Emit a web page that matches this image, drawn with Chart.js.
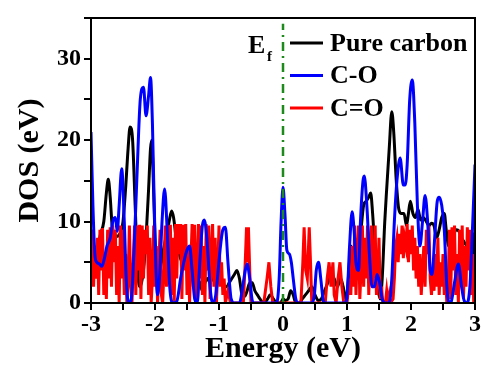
<!DOCTYPE html>
<html>
<head>
<meta charset="utf-8">
<script src="https://cdn.jsdelivr.net/npm/chart.js@4/dist/chart.umd.min.js"></script>
<style>
  body { margin: 0; background: #fff; }
</style>
</head>
<body>
<canvas id="dosChart" width="481" height="367"></canvas>
<script>
// Axis ticks
const xTicks = [-3, -2, -1, 0, 1, 2, 3];
const yTicks = [0, 10, 20, 30];
const legendOrder = ['Pure carbon', 'C-O', 'C=O'];

// Pure carbon (black)
const carbonE = [-3.00, -2.97, -2.93, -2.89, -2.85, -2.80, -2.76, -2.73, -2.70, -2.67, -2.64, -2.60, -2.55, -2.50, -2.46, -2.42, -2.39, -2.35, -2.31, -2.27, -2.24, -2.21, -2.18, -2.14, -2.10, -2.07, -2.05, -2.03, -2.00, -1.96, -1.92, -1.88, -1.83, -1.78, -1.74, -1.71, -1.67, -1.62, -1.58, -1.54, -1.50, -1.46, -1.42, -1.38, -1.34, -1.30, -1.26, -1.22, -1.18, -1.14, -1.10, -1.05, -1.00, -0.96, -0.92, -0.88, -0.84, -0.80, -0.76, -0.72, -0.68, -0.64, -0.60, -0.56, -0.52, -0.48, -0.44, -0.40, -0.36, -0.30, -0.24, -0.20, -0.15, -0.10, -0.04, 0.00, 0.04, 0.08, 0.12, 0.16, 0.20, 0.26, 0.30, 0.35, 0.40, 0.45, 0.50, 0.55, 0.60, 0.65, 0.70, 0.75, 0.80, 0.85, 0.90, 0.94, 0.98, 1.00, 1.03, 1.06, 1.10, 1.14, 1.18, 1.22, 1.26, 1.30, 1.34, 1.37, 1.40, 1.44, 1.48, 1.52, 1.55, 1.59, 1.62, 1.66, 1.70, 1.73, 1.77, 1.81, 1.85, 1.89, 1.93, 1.96, 1.99, 2.03, 2.07, 2.11, 2.15, 2.19, 2.24, 2.28, 2.32, 2.36, 2.40, 2.44, 2.48, 2.52, 2.55, 2.59, 2.63, 2.67, 2.71, 2.75, 2.79, 2.83, 2.87, 2.91, 2.94, 2.97, 3.00];
const carbonDOS = [9, 7.5, 6.5, 7, 8.5, 10, 13.5, 15.2, 13, 9.5, 8.5, 8.2, 8.5, 10, 14, 19, 21.6, 20, 12, 4, 2, 2.5, 4, 8, 14, 19, 20, 16, 8, 3, 4, 6, 8, 10, 11.3, 10.5, 8, 6, 5, 4.5, 4.5, 5.5, 6, 4, 3, 2.5, 1.5, 2.5, 3, 2.5, 3, 3, 2.7, 2.5, 2, 2, 2.5, 3, 3.5, 4, 3, 1, 0.8, 1.5, 2.5, 2.5, 1.5, 1, 0.5, 0, 0.5, 1, 0.5, 0, 0, 0.5, 0.3, 0.5, 1.5, 1, 0, 0, 0.5, 1, 1.5, 2, 1, 0.3, 0.5, 1.5, 2.5, 3.5, 3, 2, 3, 2, 0.5, 1, 4, 7, 6, 4, 5, 9, 12, 12.5, 13, 13.5, 11, 6, 2, 0.5, 3, 10, 14, 19, 23.5, 21, 15, 11.5, 11, 11, 9.5, 11, 12.5, 11, 10.5, 11.5, 10.2, 10.5, 10, 9.5, 9.8, 9.5, 8, 9, 10.5, 11, 9, 7, 7.5, 8.5, 9, 8.8, 8, 7.5, 7, 6.5, 7.5, 8.5, 2];

// C-O (blue)
const coE = [-3.00, -2.97, -2.94, -2.91, -2.87, -2.83, -2.79, -2.75, -2.70, -2.66, -2.62, -2.59, -2.56, -2.52, -2.48, -2.45, -2.42, -2.40, -2.37, -2.33, -2.28, -2.23, -2.18, -2.14, -2.10, -2.07, -2.04, -2.00, -1.96, -1.93, -1.89, -1.85, -1.81, -1.77, -1.72, -1.66, -1.60, -1.55, -1.50, -1.46, -1.42, -1.38, -1.34, -1.30, -1.26, -1.23, -1.19, -1.14, -1.10, -1.05, -0.99, -0.94, -0.90, -0.86, -0.81, -0.76, -0.68, -0.63, -0.59, -0.56, -0.52, -0.48, -0.45, -0.10, -0.06, -0.03, 0.00, 0.03, 0.06, 0.10, 0.13, 0.16, 0.20, 0.24, 0.45, 0.49, 0.52, 0.555, 0.59, 0.63, 0.66, 0.98, 1.01, 1.04, 1.08, 1.11, 1.14, 1.18, 1.21, 1.25, 1.27, 1.31, 1.35, 1.39, 1.43, 1.47, 1.51, 1.55, 1.60, 1.66, 1.70, 1.74, 1.78, 1.83, 1.88, 1.91, 1.94, 1.98, 2.02, 2.06, 2.10, 2.14, 2.18, 2.22, 2.26, 2.30, 2.33, 2.37, 2.41, 2.44, 2.48, 2.52, 2.56, 2.60, 2.63, 2.68, 2.74, 2.79, 2.83, 2.87, 2.92, 2.96, 3.00];
const coDOS = [21, 12, 6, 5, 4.8, 4.5, 5.5, 7, 8, 10, 10.5, 8.8, 12, 16.5, 10, 3, 0.2, 0, 0.5, 6, 16, 25, 26.5, 23, 25.5, 27.7, 22, 8, 1, 3, 10, 14, 9, 2, 0, 0.2, 3, 5, 6.5, 7, 4, 0.5, 0, 5, 9.5, 10.2, 8, 2, 0, 1, 6, 9, 9.3, 5, 0.5, 0, 0, 2, 4, 4.8, 3, 0.3, 0, 0, 3, 10, 14.2, 11, 6.5, 6, 5, 3, 0.5, 0, 0, 1, 4, 5, 3, 0.3, 0, 0, 2, 7, 11.2, 9, 5, 4, 10, 15, 15.6, 12, 6, 2, 2, 3.5, 2.5, 0.5, 0, 0, 3, 10, 15, 17.8, 14.5, 14.5, 17, 25, 27.4, 22, 12, 7, 10, 13.2, 10, 4, 3.5, 8, 12.5, 13, 12, 9, 2, 0, 0.2, 2.5, 4.8, 2, 0.3, 0, 2, 9, 17];

// C=O (red)
const cdoE = [-3.00, -2.98, -2.96, -2.94, -2.92, -2.90, -2.88, -2.86, -2.84, -2.82, -2.80, -2.78, -2.76, -2.74, -2.72, -2.70, -2.68, -2.66, -2.64, -2.62, -2.60, -2.58, -2.56, -2.54, -2.52, -2.50, -2.48, -2.46, -2.44, -2.42, -2.40, -2.38, -2.36, -2.34, -2.32, -2.30, -2.28, -2.26, -2.24, -2.22, -2.20, -2.18, -2.16, -2.14, -2.12, -2.10, -2.08, -2.06, -2.04, -2.02, -2.00, -1.98, -1.96, -1.94, -1.92, -1.90, -1.88, -1.86, -1.84, -1.82, -1.80, -1.78, -1.76, -1.74, -1.72, -1.70, -1.68, -1.66, -1.64, -1.62, -1.60, -1.58, -1.56, -1.54, -1.52, -1.50, -1.48, -1.46, -1.44, -1.42, -1.40, -1.38, -1.36, -1.34, -1.32, -1.30, -1.28, -1.26, -1.24, -1.22, -1.20, -1.18, -1.16, -1.14, -1.12, -1.10, -1.08, -1.06, -1.04, -1.02, -1.00, -0.98, -0.96, -0.94, -0.92, -0.90, -0.86, -0.82, -0.62, -0.59, -0.57, -0.555, -0.54, -0.52, -0.50, -0.30, -0.25, -0.22, -0.19, -0.16, 0.28, 0.31, 0.33, 0.355, 0.38, 0.41, 0.43, 0.45, 0.66, 0.69, 0.72, 0.75, 0.78, 0.80, 0.83, 0.86, 0.89, 0.92, 0.95, 1.00, 1.02, 1.04, 1.06, 1.08, 1.10, 1.12, 1.14, 1.16, 1.18, 1.20, 1.22, 1.24, 1.26, 1.28, 1.30, 1.32, 1.34, 1.36, 1.38, 1.40, 1.42, 1.44, 1.46, 1.48, 1.50, 1.52, 1.54, 1.56, 1.60, 1.62, 1.64, 1.66, 1.68, 1.72, 1.74, 1.76, 1.78, 1.80, 1.82, 1.84, 1.86, 1.88, 1.90, 1.92, 1.94, 1.96, 1.98, 2.00, 2.02, 2.04, 2.06, 2.08, 2.10, 2.12, 2.14, 2.16, 2.18, 2.20, 2.22, 2.24, 2.26, 2.28, 2.30, 2.32, 2.34, 2.36, 2.38, 2.40, 2.42, 2.44, 2.46, 2.48, 2.50, 2.52, 2.54, 2.56, 2.58, 2.60, 2.62, 2.64, 2.66, 2.68, 2.70, 2.72, 2.74, 2.76, 2.78, 2.80, 2.82, 2.84, 2.86, 2.88, 2.90, 2.92, 2.94, 2.96, 2.98, 3.00];
const cdoDOS = [6, 9, 2, 7, 3, 8, 1, 9, 4, 9.2, 1, 6, 0.5, 9, 3, 9.3, 2, 9.5, 5, 9, 1, 7, 0, 9.5, 3, 9, 1, 6, 0, 3, 9.5, 2, 0, 5, 9.5, 1, 9.5, 4, 9.6, 0.5, 9.5, 3, 9, 6, 9.5, 1, 8, 0, 3, 9.5, 2, 7, 0, 5, 9, 1, 0, 4, 9.5, 2, 9.5, 5, 9.6, 1, 8, 0, 9.7, 3, 9.7, 6, 9.7, 0.5, 9.6, 4, 9.7, 1, 7, 0, 5, 9.7, 2, 9.6, 0.5, 4, 9.7, 3, 9.5, 1, 7, 0, 9.7, 4, 9.5, 0.5, 6, 9.7, 2, 8, 0, 4, 9.5, 2, 5, 1, 3, 0, 1.5, 0, 0, 5, 9.3, 5, 9.3, 4, 0, 0, 3, 5, 2, 0, 0, 5, 9.3, 4, 3, 9.3, 5, 0, 0, 3, 5, 2, 5, 1, 0, 3, 5, 2, 0, 0, 1.5, 3, 1, 7, 2, 9.5, 1, 6, 9.5, 0.5, 4, 9.5, 2, 8, 3, 9.5, 1, 7, 9.5, 2, 5, 9.5, 1, 3, 8, 0.5, 2, 0, 0, 1.5, 0, 1, 0, 0.5, 3, 7, 8, 5, 8.5, 6, 9.5, 5.5, 8, 7, 9.7, 5, 9, 6, 9.5, 4, 8, 3, 7, 2, 6, 1, 4, 7, 2, 9, 6, 9.5, 3, 1, 4, 1.5, 6, 2, 8, 1, 5, 2, 6, 1, 3, 0, 2, 9, 0.5, 9.3, 4, 9.5, 1, 6, 0, 9, 2, 9.5, 0.5, 7, 2, 9.3, 4, 9, 1, 6, 0, 3];

// Fermi level marker
const fermiE = [0, 0];
const fermiDOS = [0, 34.3];

const serif = "'Liberation Serif', 'Times New Roman', serif";

function toPoints(xs, ys) {
  return xs.map((x, i) => ({ x: x, y: ys[i] }));
}

// legend + frame drawn over the plot area
const frameAndLegend = {
  id: 'frameAndLegend',
  afterDraw(chart) {
    const ctx = chart.ctx;
    const area = chart.chartArea;
    ctx.save();
    ctx.strokeStyle = '#000';
    ctx.lineWidth = 2;
    ctx.strokeRect(area.left, area.top, area.right - area.left, area.bottom - area.top);

    // E_f label
    ctx.fillStyle = '#000';
    ctx.textBaseline = 'alphabetic';
    ctx.font = 'bold 26px ' + serif;
    ctx.fillText('E', area.left + 157, area.top + 35);
    ctx.font = 'bold 15px ' + serif;
    ctx.fillText('f', area.left + 176, area.top + 43);

    // legend entries
    legendOrder.forEach((name, i) => {
      const d = chart.data.datasets.find(ds => ds.label === name);
      const y = area.top + 25 + i * 32.5;
      ctx.strokeStyle = d.borderColor;
      ctx.lineWidth = 3;
      ctx.beginPath();
      ctx.moveTo(area.left + 199, y);
      ctx.lineTo(area.left + 232, y);
      ctx.stroke();
      ctx.fillStyle = '#000';
      ctx.font = 'bold 26px ' + serif;
      ctx.textBaseline = 'middle';
      ctx.fillText(d.label, area.left + 239, y + 1);
    });
    ctx.restore();
  }
};

const ctx = document.getElementById('dosChart').getContext('2d');
new Chart(ctx, {
  type: 'line',
  data: {
    datasets: [
      {
        label: 'Fermi',
        data: toPoints(fermiE, fermiDOS),
        borderColor: '#1E8A1E',
        borderWidth: 2.5,
        borderDash: [9, 5, 2, 5],
        pointRadius: 0,
        order: 0
      },
      {
        label: 'C-O',
        data: toPoints(coE, coDOS),
        borderColor: '#0000FF',
        borderWidth: 3,
        cubicInterpolationMode: 'monotone',
        pointRadius: 0,
        order: 1
      },
      {
        label: 'C=O',
        data: toPoints(cdoE, cdoDOS),
        borderColor: '#FF0000',
        borderWidth: 3,
        tension: 0,
        pointRadius: 0,
        order: 2
      },
      {
        label: 'Pure carbon',
        data: toPoints(carbonE, carbonDOS),
        borderColor: '#000000',
        borderWidth: 3,
        cubicInterpolationMode: 'monotone',
        pointRadius: 0,
        order: 3
      }
    ]
  },
  options: {
    responsive: false,
    animation: false,
    devicePixelRatio: 1,
    layout: { padding: { top: 18, right: 6, left: 0, bottom: 0 } },
    plugins: {
      legend: { display: false },
      tooltip: { enabled: false }
    },
    scales: {
      x: {
        type: 'linear',
        min: -3,
        max: 3,
        afterFit: (scale) => { scale.height = 64; },
        afterBuildTicks: (scale) => {
          const t = [];
          for (let v = -3; v <= 3.001; v += 0.5) t.push({ value: Math.round(v * 10) / 10 });
          scale.ticks = t;
        },
        ticks: {
          color: '#000',
          padding: 0,
          maxRotation: 0,
          font: { family: serif, size: 24, weight: 'bold' },
          callback: (v) => xTicks.includes(v) ? String(v) : ''
        },
        grid: { drawOnChartArea: false, color: '#000', lineWidth: 2, tickLength: 7 },
        border: { color: '#000', width: 2 },
        title: {
          display: true,
          text: 'Energy (eV)',
          color: '#000',
          padding: { top: 0, bottom: 0 },
          font: { family: serif, size: 30, weight: 'bold' }
        }
      },
      y: {
        type: 'linear',
        min: 0,
        max: 35,
        afterFit: (scale) => { scale.width = 91; },
        afterBuildTicks: (scale) => {
          const t = [];
          for (let v = 0; v <= 35; v += 5) t.push({ value: v });
          scale.ticks = t;
        },
        ticks: {
          color: '#000',
          padding: 3,
          font: { family: serif, size: 24, weight: 'bold' },
          callback: (v) => yTicks.includes(v) ? String(v) : ''
        },
        grid: { drawOnChartArea: false, color: '#000', lineWidth: 2, tickLength: 7 },
        border: { color: '#000', width: 2 },
        title: {
          display: true,
          text: 'DOS (eV)',
          color: '#000',
          padding: { top: 12, bottom: 0 },
          font: { family: serif, size: 30, weight: 'bold' }
        }
      }
    }
  },
  plugins: [frameAndLegend]
});
</script>
</body>
</html>
